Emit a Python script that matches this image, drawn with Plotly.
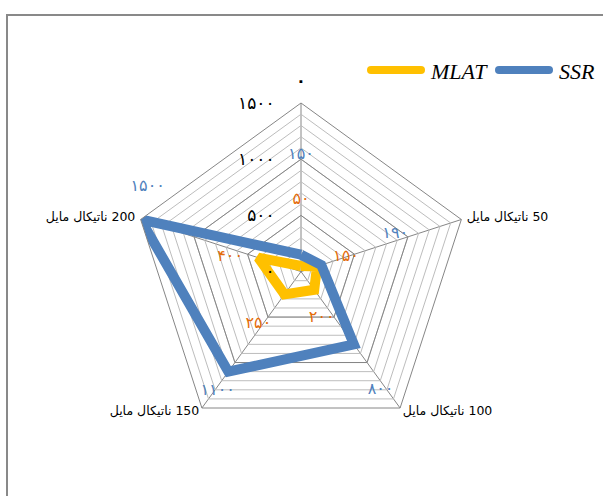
import plotly.graph_objects as go

# ---------------- data ----------------
CATEGORIES = ["0", "50 ناتیکال مایل", "100 ناتیکال مایل", "150 ناتیکال مایل", "200 ناتیکال مایل"]
MLAT = [50, 150, 200, 250, 400]
SSR = [150, 190, 800, 1100, 1500]
RADIAL_TICKS = [0, 500, 1000, 1500]
MINOR_STEP = 100
SERIES_NAMES = ["MLAT", "SSR"]

# ---------------- helpers / style ----------------
FA = str.maketrans("0123456789", "۰۱۲۳۴۵۶۷۸۹")
RLM = "\u200F"


def fa(v):
    return str(v).translate(FA)


def cat_label(c):
    if c.isdigit():
        return "<b>" + fa(c) + "</b>"
    return RLM + c


W, H = 603, 496
CX, CY, R = 301, 271.6, 168.6
C_MLAT = "#FFC000"
C_SSR = "#4F81BD"
C_MLAT_LBL = "#E46C0A"
C_SSR_LBL = "#4F81BD"
GRID_MAJOR = "#868686"
GRID_MINOR = "#BDBDBD"
FONT = "DejaVu Sans"

# label placement (radius in axis units, angular shift in degrees from category spoke)
MLAT_LABEL_R = [637, 421, 453, 603, 645]
MLAT_LABEL_DTH = [0, 0, 12, 3, -6]
SSR_LABEL_R = [1037, 904, 1266, 1292, 1560]
SSR_LABEL_DTH = [0, -4, 2, -1, 11]
CAT_LABEL_R = [1687, 1550, 1540, 1540, 1550]
CAT_LABEL_POS = ["middle center", "middle right", "middle right", "middle left", "middle left"]
CAT_LABEL_SIZE = [16, 12.5, 12.5, 12.5, 12.5]
LABEL_LAYER_MAX = 1800  # radial extent of the (invisible) label layer

rmax = RADIAL_TICKS[-1]
all_ticks = list(range(0, rmax + 1, MINOR_STEP))
tick_text = [fa(t) if t in RADIAL_TICKS else "" for t in all_ticks]
step_deg = 360 / len(CATEGORIES)

fig = go.Figure()

# major rings (inner majors; outer boundary is the angular axis line)
for t in RADIAL_TICKS[1:-1]:
    fig.add_trace(go.Scatterpolar(
        r=[t] * (len(CATEGORIES) + 1), theta=CATEGORIES + CATEGORIES[:1],
        mode="lines", line=dict(color=GRID_MAJOR, width=1),
        hoverinfo="skip", showlegend=False, subplot="polar"))

for name, vals, col in [(SERIES_NAMES[0], MLAT, C_MLAT), (SERIES_NAMES[1], SSR, C_SSR)]:
    fig.add_trace(go.Scatterpolar(
        r=vals + vals[:1], theta=CATEGORIES + CATEGORIES[:1], name=name,
        mode="lines", line=dict(color=col, width=10), showlegend=False,
        subplot="polar"))

# data labels
for vals, lr, ld, col in [(MLAT, MLAT_LABEL_R, MLAT_LABEL_DTH, C_MLAT_LBL),
                          (SSR, SSR_LABEL_R, SSR_LABEL_DTH, C_SSR_LBL)]:
    fig.add_trace(go.Scatterpolar(
        r=lr, theta=[i * step_deg + d for i, d in enumerate(ld)],
        text=[fa(v) for v in vals], mode="text",
        textfont=dict(family=FONT, size=16, color=col),
        cliponaxis=False, hoverinfo="skip", showlegend=False, subplot="polar2"))

# category labels
fig.add_trace(go.Scatterpolar(
    r=CAT_LABEL_R, theta=[i * step_deg for i in range(len(CATEGORIES))],
    text=[cat_label(c) for c in CATEGORIES], mode="text", textposition=CAT_LABEL_POS,
    textfont=dict(family=FONT, size=CAT_LABEL_SIZE, color="black"),
    cliponaxis=False, hoverinfo="skip", showlegend=False, subplot="polar2"))

dom_x = [(CX - R) / W, (CX + R) / W]
dom_y = [(H - CY - R) / H, (H - CY + R) / H]
R2 = R * LABEL_LAYER_MAX / rmax
dom2_x = [(CX - R2) / W, (CX + R2) / W]
dom2_y = [(H - CY - R2) / H, (H - CY + R2) / H]

fig.update_layout(
    width=W, height=H, margin=dict(l=0, r=0, t=0, b=0),
    paper_bgcolor="white", plot_bgcolor="white", showlegend=False,
    polar=dict(
        domain=dict(x=dom_x, y=dom_y), bgcolor="white", gridshape="linear",
        radialaxis=dict(range=[0, rmax], tickvals=all_ticks, ticktext=tick_text,
                        angle=90, side="counterclockwise", showline=False,
                        gridcolor=GRID_MINOR, gridwidth=1, tickangle=90,
                        ticks="outside", ticklen=20, tickcolor="rgba(0,0,0,0)",
                        tickfont=dict(family=FONT, size=17, color="black")),
        angularaxis=dict(direction="clockwise", rotation=90,
                         tickvals=CATEGORIES, showticklabels=False,
                         showline=True, linecolor=GRID_MAJOR, linewidth=1,
                         gridcolor=GRID_MAJOR, gridwidth=1, ticks=""),
    ),
    polar2=dict(
        domain=dict(x=dom2_x, y=dom2_y), bgcolor="rgba(0,0,0,0)",
        radialaxis=dict(range=[0, LABEL_LAYER_MAX], visible=False),
        angularaxis=dict(direction="clockwise", rotation=90, visible=False),
    ),
)


def px(x):
    return x / W


def py(y):
    return 1 - y / H


shapes = [dict(type="rect", xref="paper", yref="paper", x0=px(7), x1=px(W + 10),
               y0=py(H + 10), y1=py(15), line=dict(color="#898989", width=2),
               fillcolor="rgba(0,0,0,0)", layer="below")]
annotations = []
legend_items = [(SERIES_NAMES[0], C_MLAT, 367, 425, 428), (SERIES_NAMES[1], C_SSR, 495, 553, 557)]
ly = 70
for name, col, x0, x1, tx in legend_items:
    rr = 4
    shapes.append(dict(type="line", xref="paper", yref="paper", x0=px(x0 + rr), x1=px(x1 - rr),
                       y0=py(ly), y1=py(ly), line=dict(color=col, width=2 * rr)))
    for cxp in (x0 + rr, x1 - rr):
        shapes.append(dict(type="circle", xref="paper", yref="paper",
                           x0=px(cxp - rr), x1=px(cxp + rr), y0=py(ly + rr), y1=py(ly - rr),
                           fillcolor=col, line=dict(width=0)))
    annotations.append(dict(text=name, xref="paper", yref="paper", x=px(tx), y=py(ly + 1),
                            xanchor="left", yanchor="middle", showarrow=False,
                            font=dict(family="Liberation Serif", size=22, color="black",
                                      style="italic")))

fig.update_layout(shapes=shapes, annotations=annotations)
fig.write_html("out.html")
